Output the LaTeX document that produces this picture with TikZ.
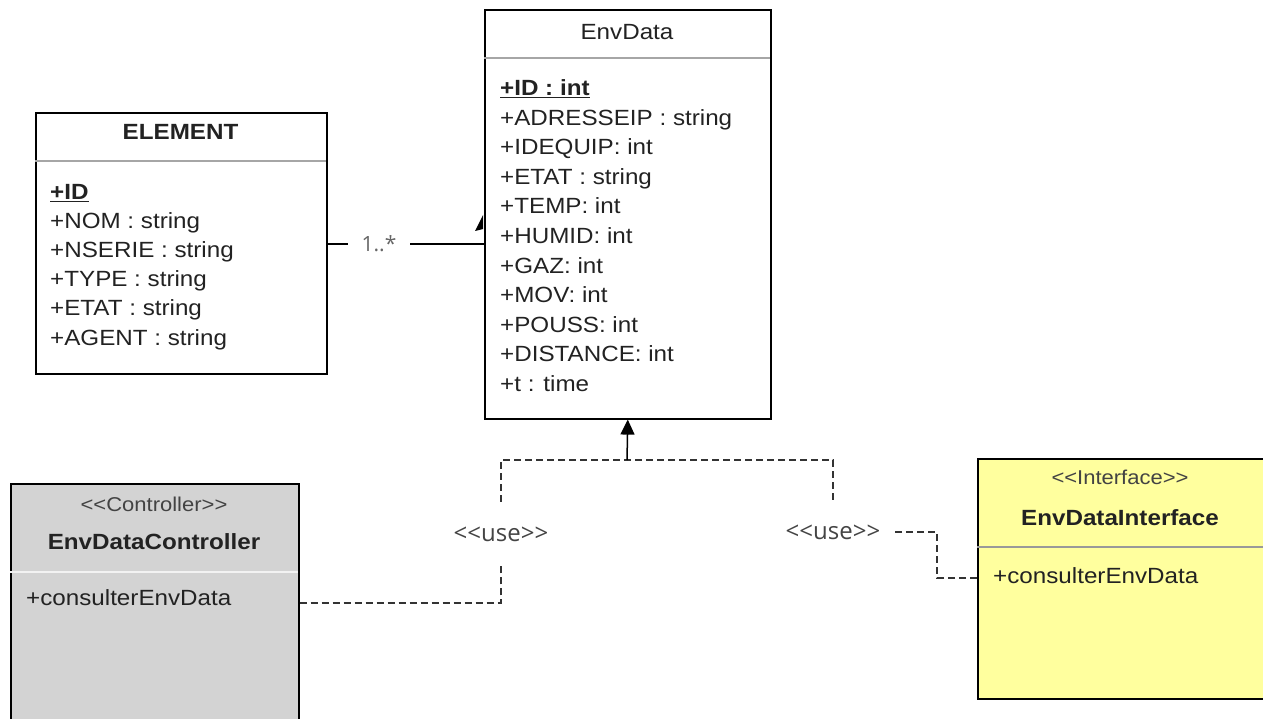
\documentclass[tikz,border=0pt]{standalone}
\usepackage{fontspec}
\newfontfamily\umlfont{Liberation Sans}[FakeStretch=1.1]
\newfontfamily\lblfont{Open Sans}
\usetikzlibrary{arrows.meta,calc}
\definecolor{txt}{HTML}{222222}
\definecolor{lblc}{HTML}{444444}
\definecolor{multc}{HTML}{666666}
\definecolor{depc}{HTML}{333333}
\definecolor{ctrlfill}{HTML}{D3D3D3}
\definecolor{ifill}{HTML}{FFFF9E}
\newcommand\umlfs{\umlfont\fontsize{22pt}{26pt}\selectfont}
\newcommand\stfs{\umlfont\fontsize{20pt}{24pt}\selectfont}
\newcommand\lblfs{\lblfont\fontsize{24pt}{28pt}\selectfont}
\newcommand\multfs{\lblfont\fontsize{21pt}{25pt}\selectfont}
\begin{document}
\begin{tikzpicture}[x=1pt,y=-1pt,
  box/.style={draw=black, line width=1.6pt, anchor=north west, inner sep=0pt},
  sep/.style={draw=gray!70, line width=1.2pt},
  attr/.style={anchor=base west, inner sep=0pt, text=txt, font=\umlfs},
  ttl/.style={anchor=base, inner sep=0pt, text=txt, font=\umlfs},
  stereo/.style={anchor=base, inner sep=0pt, text=txt!85, font=\stfs},
  dep/.style={draw=depc, line width=1.8pt, dash pattern=on 7pt off 4pt},
  uselbl/.style={inner sep=0pt, text=lblc, font=\lblfs, minimum height=64pt},
  assoc/.style={draw=black, line width=1.4pt},
  realize/.style={draw=black, line width=1.5pt, -{Triangle[length=15pt,width=14pt]}}
]
\useasboundingbox (0,0) rectangle (1263,719);

% ELEMENT
\node[box, minimum width=291pt, minimum height=261pt] (elem) at (35,112) {};
\draw[sep] (35,161) -- (326,161);
\node[ttl, font=\umlfs\bfseries] (elemT) at (180.5,140) {ELEMENT};
\node[attr, font=\umlfs\bfseries] (e1) at (50,200) {\underline{+ID}};
\node[attr] (e2) at (50,229) {+NOM : string};
\node[attr] (e3) at (50,258) {+NSERIE : string};
\node[attr] (e4) at (50,287) {+TYPE : string};
\node[attr] (e5) at (50,316) {+ETAT : string};
\node[attr] (e6) at (50,345) {+AGENT : string};

% EnvData
\node[box, minimum width=286pt, minimum height=409pt] (env) at (484,9) {};
\draw[sep] (484,58) -- (770,58);
\node[ttl] (envT) at (627,40) {EnvData};
\node[attr, font=\umlfs\bfseries] (a1) at (500,96) {\underline{+ID : int}};
\node[attr] (a2) at (500,125.5) {+ADRESSEIP : string};
\node[attr] (a3) at (500,155) {+IDEQUIP: int};
\node[attr] (a4) at (500,184.5) {+ETAT : string};
\node[attr] (a5) at (500,214) {+TEMP: int};
\node[attr] (a6) at (500,243.5) {+HUMID: int};
\node[attr] (a7) at (500,273) {+GAZ: int};
\node[attr] (a8) at (500,302.5) {+MOV: int};
\node[attr] (a9) at (500,332) {+POUSS: int};
\node[attr] (a10) at (500,361.5) {+DISTANCE: int};
\node[attr] (a11) at (500,391) {+t : time};

% Controller
\node[box, fill=ctrlfill, minimum width=288pt, minimum height=250pt] (ctrl) at (10,483) {};
\draw[draw=white!90!gray, line width=1.4pt] (10,572) -- (298,572);
\node[stereo] (ctrlS) at (154,511) {<<Controller>>};
\node[ttl, font=\umlfs\bfseries] (ctrlT) at (154,549) {EnvDataController};
\node[attr] (c1) at (26,605) {+consulterEnvData};

% Interface
\node[box, fill=ifill, minimum width=295pt, minimum height=240pt] (iface) at (977,458) {};
\draw[draw=gray!80, line width=1.4pt] (977,547) -- (1263,547);
\node[stereo] (ifS) at (1120,484) {<<Interface>>};
\node[ttl, font=\umlfs\bfseries] (ifT) at (1120,525) {EnvDataInterface};
\node[attr] (i1) at (993,583) {+consulterEnvData};

% association ELEMENT -> EnvData
\node[inner sep=0pt, minimum width=62pt, text=multc, font=\multfs] (mult) at (379,244) {1..*};
\draw[assoc] (elem.east |- mult.center) -- (mult.west);
\draw[assoc] (mult.east) -- (mult.east -| env.west);
\fill[black] (483,215) -- (475,231) -- (483,229) -- cycle;

% dependencies
\coordinate (j) at (627,460);
\node[uselbl, minimum width=100pt] (u1) at (501,534) {<<use>>};
\node[uselbl, minimum width=120pt] (u2) at (833,532) {<<use>>};
\draw[dep] ($(ctrl.north east)+(0,120)$) -| (u1.south);
\draw[dep] (u1.north) |- (j);
\draw[dep] ($(iface.north west)+(0,120)$) -| ($(u2.east)+(44,0)$) -- (u2.east);
\draw[dep] (u2.north) |- (j);
\draw[realize] (j) -- (env.south);
\end{tikzpicture}
\end{document}
